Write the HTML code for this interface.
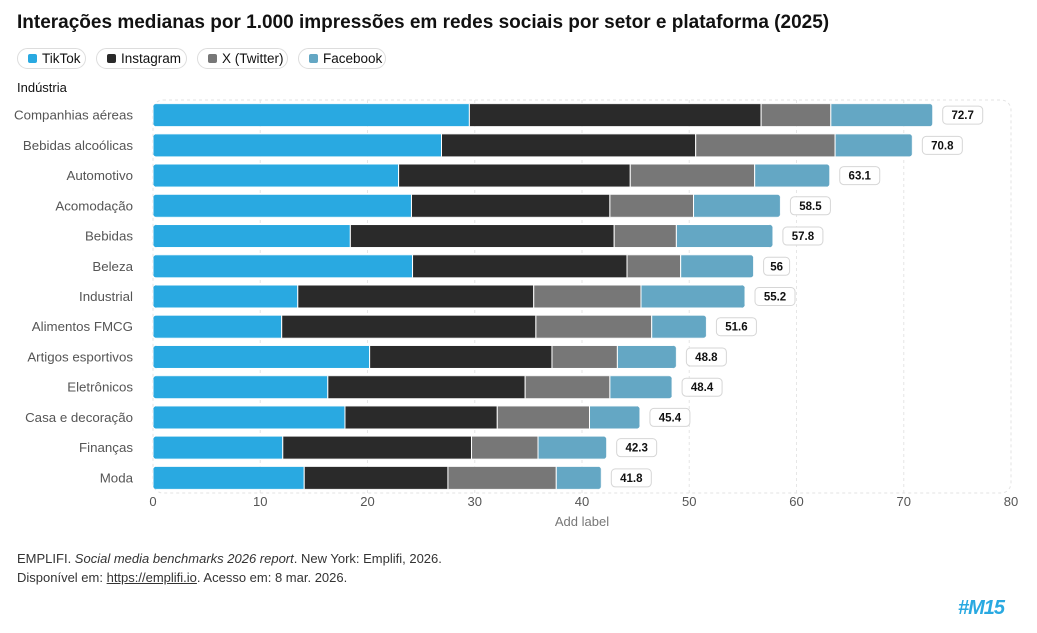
<!DOCTYPE html>
<html><head><meta charset="utf-8"><style>
body{margin:0;width:1037px;height:633px;background:#fff;font-family:"Liberation Sans",sans-serif;position:relative;overflow:hidden}
.t{position:absolute;left:17px;top:12px;font-size:19px;font-weight:bold;color:#111}
.pill{position:absolute;top:48px;height:21px;border:1px solid #ddd;border-radius:11px;box-sizing:border-box;font-size:13.5px;color:#111;line-height:19px;padding-left:24px}
.pill i{position:absolute;left:10px;top:5px;width:9px;height:9px;border-radius:2px}
.src{position:absolute;left:17px;font-size:13px;color:#333}
</style></head><body>
<div class="t">Interações medianas por 1.000 impressões em redes sociais por setor e plataforma (2025)</div>
<div class="pill" style="left:17px;width:69px"><i style="background:#29a9e1"></i>TikTok</div>
<div class="pill" style="left:96px;width:91px"><i style="background:#2a2a2a"></i>Instagram</div>
<div class="pill" style="left:197px;width:91px"><i style="background:#777"></i>X (Twitter)</div>
<div class="pill" style="left:298px;width:88px"><i style="background:#64a7c4"></i>Facebook</div>
<div style="position:absolute;left:17px;top:80px;font-size:13px;color:#111">Indústria</div>
<svg id="c" width="1037" height="633" style="position:absolute;left:0;top:0"></svg>
<div class="src" style="top:551px">EMPLIFI. <i>Social media benchmarks 2026 report</i>. New York: Emplifi, 2026.</div>
<div class="src" style="top:570px">Disponível em: <u>https://emplifi.io</u>. Acesso em: 8 mar. 2026.</div>
<div style="position:absolute;left:958px;top:597px;font-size:20px;font-weight:900;color:#29a9e1;font-style:italic;letter-spacing:-1px">#M15</div>
<script>
const categories=["Companhias aéreas","Bebidas alcoólicas","Automotivo","Acomodação","Bebidas","Beleza","Industrial","Alimentos FMCG","Artigos esportivos","Eletrônicos","Casa e decoração","Finanças","Moda"];
const tiktok=[29.5,26.9,22.9,24.1,18.4,24.2,13.5,12.0,20.2,16.3,17.9,12.1,14.1];
const instagram=[27.2,23.7,21.6,18.5,24.6,20.0,22.0,23.7,17.0,18.4,14.2,17.6,13.4];
const twitter=[6.5,13.0,11.6,7.8,5.8,5.0,10.0,10.8,6.1,7.9,8.6,6.2,10.1];
const facebook=[9.5,7.2,7.0,8.1,9.0,6.8,9.7,5.1,5.5,5.8,4.7,6.4,4.2];
const totals=["72.7","70.8","63.1","58.5","57.8","56","55.2","51.6","48.8","48.4","45.4","42.3","41.8"];
const ticks=[0,10,20,30,40,50,60,70,80];
const NS="http://www.w3.org/2000/svg",svg=document.getElementById('c');
const X0=153,X1=1011,Y0=100,Y1=493;
const x=v=>X0+(v-0)/(80)*(X1-X0);
const rowH=(Y1-Y0)/categories.length;
const y=i=>Y0+rowH*(i+0.5);
function el(t,a,p){const e=document.createElementNS(NS,t);for(const k in a)e.setAttribute(k,a[k]);(p||svg).appendChild(e);return e;}
const box=el('rect',{x:X0,y:Y0,width:X1-X0,height:Y1-Y0,rx:10,fill:'none',stroke:'#e3e3e3','stroke-dasharray':'3,3'});


ticks.forEach(t=>{
 if(t>0&&t<80){const g=el('line',{x1:x(t),x2:x(t),y1:Y0,y2:Y1,stroke:'#e6e6e6','stroke-dasharray':'3,3'});
 
 }
 const l=el('text',{x:x(t),y:506,'text-anchor':'middle','font-size':13,fill:'#555'});l.textContent=t;
 
 
});
const xt=el('text',{x:582,y:526,'text-anchor':'middle','font-size':13,fill:'#777'});xt.textContent='Add label';


const series=[tiktok,instagram,twitter,facebook],cols=['#29a9e1','#2a2a2a','#777777','#64a7c4'],names=['tiktok','instagram','x','facebook'];
const bh=23;
categories.forEach((c,i)=>{
 const cy=y(i);
 const lb=el('text',{x:133,y:cy+4.5,'text-anchor':'end','font-size':13.3,fill:'#555'});lb.textContent=c;
 
 
 const clip=el('clipPath',{id:'cl'+i});
 let sum=0;series.forEach(s=>sum+=s[i]);
 el('rect',{x:X0,y:cy-bh/2,width:x(sum)-X0,height:bh,rx:4},clip);
 const g=el('g',{'clip-path':'url(#cl'+i+')'});
 let acc=0;
 series.forEach((s,k)=>{
  const r=el('rect',{x:x(acc),y:cy-bh/2,width:x(acc+s[i])-x(acc),height:bh,fill:cols[k],stroke:'#fff','stroke-width':1},g);
  
  
  acc+=s[i];
 });
 const tx=x(sum)+10,w=totals[i].length*7+12;
 const tb=el('rect',{x:tx,y:cy-9,width:w,height:18,rx:4,fill:'#fff',stroke:'#d6d6d6'});
 
 
 const tt=el('text',{x:tx+w/2,y:cy+4,'text-anchor':'middle','font-size':11.5,'font-weight':'bold',fill:'#111'});tt.textContent=totals[i];
 
 
});
</script>
</body></html>
